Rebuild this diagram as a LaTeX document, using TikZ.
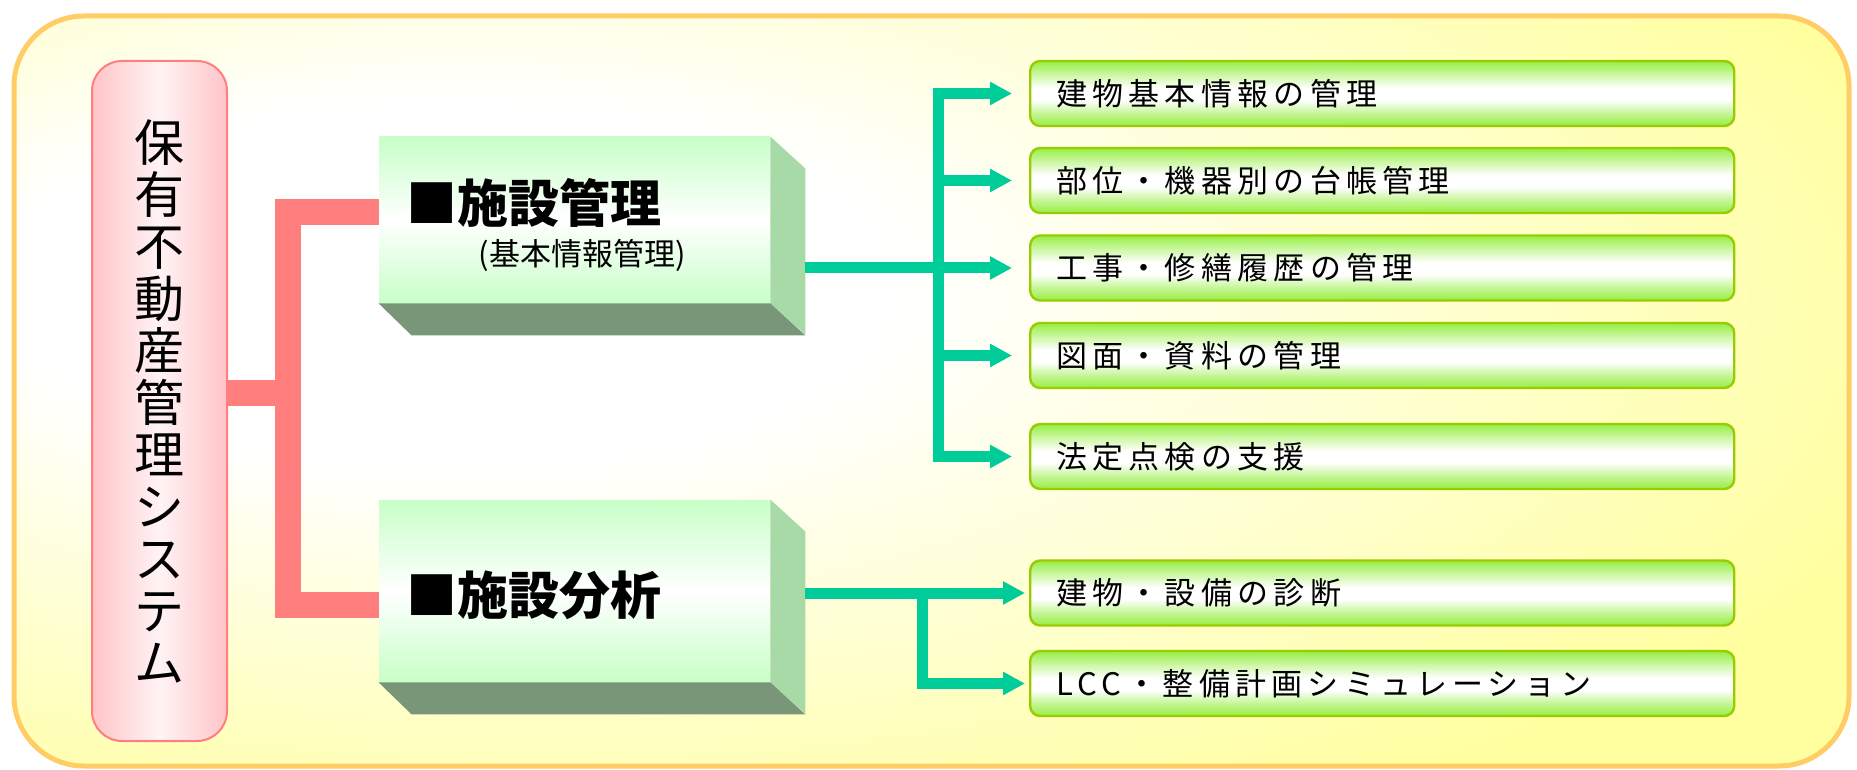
\documentclass[tikz,border=0pt]{standalone}
\usepackage{fontspec}
\setmainfont{Noto Sans CJK JP}
\usepackage{tikz}
\usetikzlibrary{arrows.meta,shapes,positioning,calc}
\definecolor{frameorange}{RGB}{255,204,102}
\definecolor{bgyellow}{RGB}{255,255,160}
\definecolor{syspink}{RGB}{255,196,200}
\definecolor{syslinered}{RGB}{255,127,127}
\definecolor{frontgreen}{RGB}{200,255,200}
\definecolor{sidegreen}{RGB}{168,218,168}
\definecolor{basegreen}{RGB}{122,150,120}
\definecolor{itemgreen}{RGB}{150,238,66}
\definecolor{itemedge}{RGB}{153,204,0}
\definecolor{flowteal}{RGB}{0,204,153}

\pgfdeclareradialshading{bgglow}{\pgfpoint{-15bp}{8bp}}{color(0bp)=(white); color(12bp)=(white); color(38bp)=(bgyellow); color(100bp)=(bgyellow)}
\pgfdeclareverticalshading{itemshade}{100bp}{color(0bp)=(itemgreen); color(25bp)=(itemgreen); color(35bp)=(itemgreen!55!white); color(45bp)=(white); color(54bp)=(white); color(66bp)=(itemgreen!55!white); color(75bp)=(itemgreen); color(100bp)=(itemgreen)}

\begin{document}
\begin{tikzpicture}[x=0.5pt, y=-0.5pt,
    frame/.style={draw=frameorange, line width=2.5pt, rounded corners=35pt, shade, shading=bgglow},
    sys/.style={rectangle, draw=syslinered, line width=1pt, rounded corners=15pt, left color=syspink, right color=syspink, middle color=white!80!syspink, minimum width=67.5pt, minimum height=340pt, align=center, font=\fontsize{25pt}{26pt}\selectfont},
    unit/.style={rectangle, inner sep=0pt, minimum width=195.5pt, top color=frontgreen, bottom color=frontgreen, middle color=white},
    side/.style={fill=sidegreen},
    base/.style={fill=basegreen},
    title/.style={anchor=west, inner sep=0pt, font=\bfseries\fontsize{25.5pt}{26pt}\selectfont},
    sub/.style={inner sep=0pt, font=\fontsize{15.5pt}{16pt}\selectfont},
    item/.style={rectangle, anchor=west, rounded corners=5pt, draw=itemedge, line width=1.2pt, shade, shading=itemshade, minimum height=32.5pt, text width=326pt, inner xsep=13pt, align=left, font=\fontsize{15.5pt}{17pt}\selectfont\addfontfeature{LetterSpace=17}},
    bus/.style={draw=syslinered, line width=13pt},
    trunk/.style={draw=flowteal, line width=5.5pt, line cap=rect},
    flow/.style={draw=flowteal, line width=5.5pt, -{Triangle[length=11pt,width=11pt]}, shorten >=8.5pt}
]
\useasboundingbox (0,0) rectangle (1857,770);
\path[frame] (14,16) rectangle (1849,766);

% system
\node[sys] (sys) at (159.5,401) {保\\有\\不\\動\\産\\管\\理\\シ\\ス\\テ\\ム};

% blocks
\node[unit, minimum height=83pt] (fm) at (574.5,220) {};
\node[unit, minimum height=91pt] (fa) at (574.5,591) {};
\foreach \u/\h in {fm/166, fa/182} {
    \fill[side] (\u.north east) -- ++(35,32) -- ++(0,\h) -- (\u.south east) -- cycle;
    \fill[base] (\u.south west) -- (\u.south east) -- ++(35,32) -- ($(\u.south west)+(33,32)$) -- cycle;
}
\node[title] (tm) at (406,203) {■施設管理};
\node[sub] (ts) at (582,255) {(基本情報管理)};
\node[title] (ta) at (406,595) {■施設分析};

% items
\node[item] (i1) at (1029,93.5) {建物基本情報の管理};
\node[item] (i2) at (1029,180.5) {部位・機器別の台帳管理};
\node[item] (i3) at (1029,268) {工事・修繕履歴の管理};
\node[item] (i4) at (1029,355.5) {図面・資料の管理};
\node[item] (i5) at (1029,456.5) {法定点検の支援};
\node[item] (i6) at (1029,593) {建物・設備の診断};
\node[item] (i7) at (1029,683.5) {LCC・整備計画シミュレーション};

% pink bus
\coordinate (bus) at (288,393);
\draw[bus] ([yshift=4pt]fm.west) -| (bus) |- ([yshift=-7pt]fa.west);
\draw[bus] (sys.east |- bus) -- (bus);

% green arrows
\coordinate (ms) at ($(fm.south east)+(35,0)$);
\coordinate (as) at ($(fa.south east)+(35,0)$);
\coordinate (tr) at (938,0);
\coordinate (br) at (922,0);
\draw[trunk] (tr |- i1.west) -- (tr |- i5.west);
\foreach \i in {i1,i2,i4,i5}
    \draw[flow] (tr |- \i.west) -- (\i.west);
\draw[flow] (ms |- i3.west) -- (i3.west);
\draw[flow, shorten >=2pt] (as |- i6.west) -- (i6.west);
\draw[flow, shorten >=2pt] (br |- i6.west) |- (i7.west);
\end{tikzpicture}
\end{document}
